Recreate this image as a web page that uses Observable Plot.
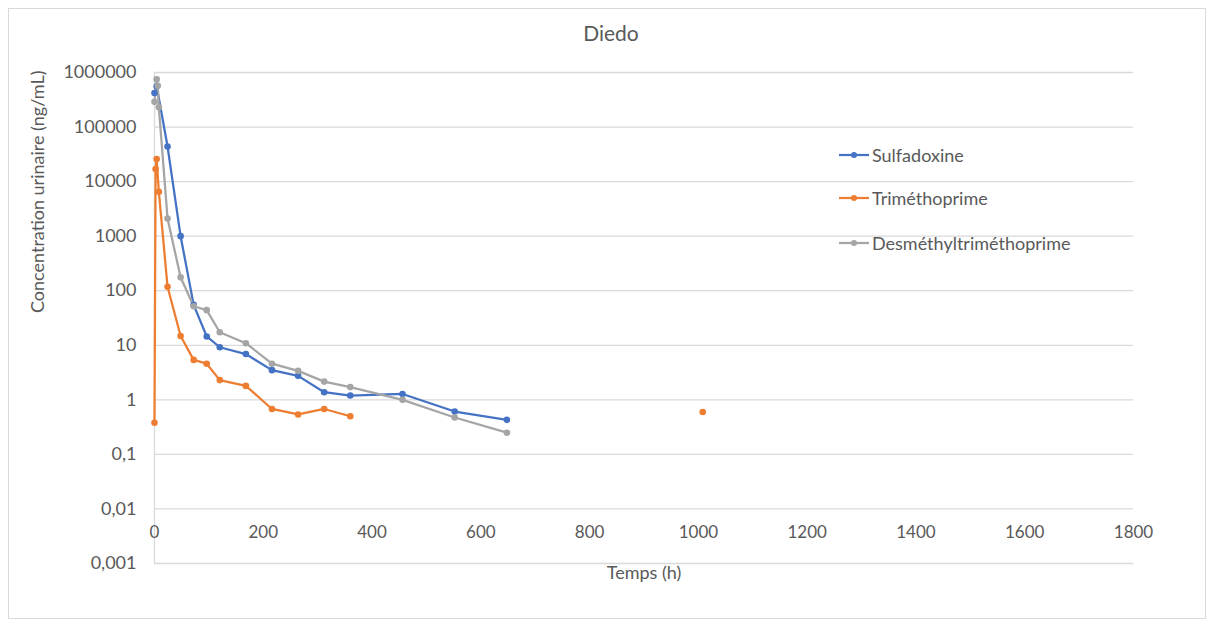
<!DOCTYPE html>
<html>
<head>
<meta charset="utf-8">
<script src="https://cdn.jsdelivr.net/npm/d3@7"></script>
<script src="https://cdn.jsdelivr.net/npm/@observablehq/plot@0.6"></script>
<style>
  html, body { margin: 0; padding: 0; background: #fff; }
  #wrap { position: relative; width: 1214px; height: 626px; overflow: hidden; font-family: Lato, "Open Sans", sans-serif; color: #595959; }
  #frame { position: absolute; left: 8px; top: 8px; width: 1198px; height: 611px; border: 1px solid #D9D9D9; box-sizing: border-box; }
  #title { position: absolute; left: 0; width: 1222px; top: 20px; text-align: center; font-size: 21px; line-height: 26px; }
  #legend { position: absolute; left: 838px; top: 143px; font-size: 18px; }
  .item { position: absolute; left: 0; white-space: nowrap; height: 24px; line-height: 24px; display: flex; align-items: center; }
  .item svg { margin-right: 2px; }
  #chart { position: absolute; left: 0; top: 0; }
</style>
</head>
<body>
<div id="wrap">
  <div id="frame"></div>
  <div id="chart"></div>
  <div id="title">Diedo</div>
  <div id="legend"></div>
</div>
<script>
// ---- data ----
const seriesNames = ["Sulfadoxine", "Triméthoprime", "Desméthyltriméthoprime"];
const seriesColors = ["#4472C4", "#ED7D31", "#A5A5A5"];

const sulfaTimes  = [0, 4, 24, 48, 72, 96, 120, 168, 216, 264, 312, 360, 456, 552, 648];
const sulfaValues = [420000, 560000, 44000, 1000, 55, 14.5, 9.2, 6.9, 3.5, 2.75, 1.38, 1.2, 1.28, 0.61, 0.43];

const trimTimes  = [0, 2, 4, 8, 24, 48, 72, 96, 120, 168, 216, 264, 312, 360, 456, 552, 648, 1008];
const trimValues = [0.38, 17000, 26000, 6500, 118, 14.8, 5.4, 4.6, 2.3, 1.8, 0.68, 0.54, 0.68, 0.50, null, null, null, 0.60];

const desmTimes  = [0, 4, 6, 8, 24, 48, 72, 96, 120, 168, 216, 264, 312, 360, 456, 552, 648];
const desmValues = [290000, 750000, 570000, 230000, 2100, 176, 52, 44, 17.3, 10.9, 4.6, 3.4, 2.16, 1.71, 1.0, 0.475, 0.25];

const yTicks = [0.001, 0.01, 0.1, 1, 10, 100, 1000, 10000, 100000, 1000000];
const xTicks = [0, 200, 400, 600, 800, 1000, 1200, 1400, 1600, 1800];

const xLabel = "Temps (h)";
const yLabel = "Concentration urinaire (ng/mL)";

// ---- tidy table ----
const data = [];
[[sulfaTimes, sulfaValues], [trimTimes, trimValues], [desmTimes, desmValues]].forEach(([ts, vs], i) => {
  ts.forEach((t, j) => data.push({series: seriesNames[i], t, v: vs[j]}));
});

const fmtY = d => d < 1 ? String(d).replace(".", ",") : String(d);

const chart = Plot.plot({
  width: 1214,
  height: 626,
  marginLeft: 154,
  marginRight: 81,
  marginTop: 72,
  marginBottom: 63,
  style: {fontFamily: "Lato, 'Open Sans', sans-serif", fontSize: "18px", color: "#595959", background: "transparent", overflow: "visible"},
  x: {domain: [0, 1800], axis: null},
  y: {type: "log", domain: [0.001, 1000000], axis: null},
  color: {domain: seriesNames, range: seriesColors},
  marks: [
    Plot.ruleY(yTicks, {stroke: "#D9D9D9", strokeWidth: 1.3}),
    Plot.ruleX([0], {stroke: "#D9D9D9", strokeWidth: 1.3}),
    Plot.axisY({ticks: yTicks, tickSize: 0, tickPadding: 18, tickFormat: fmtY, label: null, fontSize: 18}),
    Plot.text(xTicks, {x: d => d, frameAnchor: "bottom", dy: -26, text: d => String(d), fill: "#595959", fontSize: 17}),
    Plot.text([yLabel], {frameAnchor: "left", dx: -116, dy: -5, rotate: -90, fill: "#595959", fontSize: 18}),
    Plot.text([xLabel], {frameAnchor: "bottom", dy: 15, fill: "#595959", fontSize: 18}),
    Plot.line(data, {x: "t", y: "v", z: "series", stroke: "series", strokeWidth: 2.25, curve: "linear"}),
    Plot.dot(data, {x: "t", y: "v", fill: "series", r: 3.3, stroke: "none"})
  ]
});
document.getElementById("chart").appendChild(chart);

// ---- legend ----
const legend = document.getElementById("legend");
const offsets = [0, 43, 88];
seriesNames.forEach((name, i) => {
  const div = document.createElement("div");
  div.className = "item";
  div.style.top = offsets[i] + "px";
  div.innerHTML = `<svg width="32" height="10"><line x1="1" x2="31" y1="5" y2="5" stroke="${seriesColors[i]}" stroke-width="2.25"/><circle cx="16" cy="5" r="3" fill="${seriesColors[i]}"/></svg><span>${name}</span>`;
  legend.appendChild(div);
});
</script>
</body>
</html>
